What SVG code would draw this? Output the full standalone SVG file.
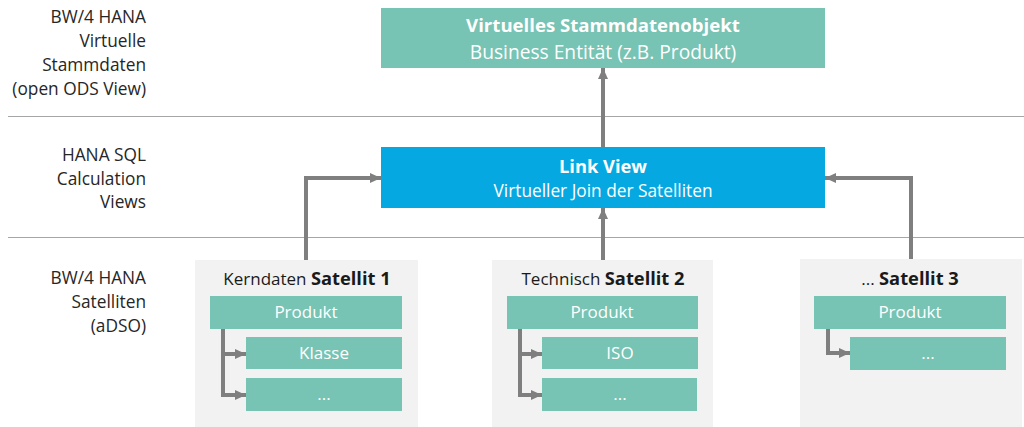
<svg xmlns="http://www.w3.org/2000/svg" width="1024" height="427" viewBox="0 0 1024 427">
<style>
  .lbl{font-family:"Open Sans","Noto Sans",sans-serif;font-size:17.3px;fill:#262626;text-anchor:end}
  .teal{fill:#77C3B4}
  .blue{fill:#06A8E2}
  .sat{fill:#F2F2F2}
  .wt{font-family:"Open Sans","Noto Sans",sans-serif;font-size:17px;fill:#FFFFFF;text-anchor:middle}
  .wb{font-family:"Open Sans","Noto Sans",sans-serif;font-size:18.3px;font-weight:bold;fill:#FFFFFF;text-anchor:middle}
  .big{font-size:19.2px}
  .bigb{font-size:18.6px}
  .sub{font-size:17.3px}
  .tt{font-family:"Open Sans","Noto Sans",sans-serif;font-size:17px;fill:#1A1A1A;text-anchor:middle}
  .tb{font-weight:bold;font-size:18.3px}
  .sep{stroke:#A6A6A6;stroke-width:1}
  .con{fill:none;stroke:#7F7F7F;stroke-width:4}
</style>
<defs>
  <marker id="ah" markerUnits="userSpaceOnUse" markerWidth="12" markerHeight="12" refX="11" refY="5" orient="auto">
    <path d="M0,0 L11,5 L0,10 z" fill="#7F7F7F"/>
  </marker>
</defs>
<rect x="0" y="0" width="1024" height="427" fill="#FFFFFF"/>
<g id="layers">
  <line class="sep" x1="8" y1="116.5" x2="1024" y2="116.5"/>
  <line class="sep" x1="8" y1="237.5" x2="1024" y2="237.5"/>
  <text class="lbl" x="146" y="23">BW/4 HANA</text>
  <text class="lbl" x="146" y="47">Virtuelle</text>
  <text class="lbl" x="146" y="71">Stammdaten</text>
  <text class="lbl" x="146" y="95">(open ODS View)</text>
  <text class="lbl" x="146" y="161">HANA SQL</text>
  <text class="lbl" x="146" y="185">Calculation</text>
  <text class="lbl" x="146" y="208">Views</text>
  <text class="lbl" x="146" y="284">BW/4 HANA</text>
  <text class="lbl" x="146" y="308">Satelliten</text>
  <text class="lbl" x="146" y="332">(aDSO)</text>
</g>
<g id="stammdatenobjekt">
  <rect class="teal" x="381" y="8" width="444" height="60"/>
  <text class="wb bigb" x="603" y="32">Virtuelles Stammdatenobjekt</text>
  <text class="wt big" x="603" y="59">Business Entität (z.B. Produkt)</text>
</g>
<g id="linkview">
  <rect class="blue" x="381" y="147" width="444" height="61"/>
  <text class="wb" x="603" y="173">Link View</text>
  <text class="wt sub" x="603" y="197">Virtueller Join der Satelliten</text>
</g>
<g id="satellit1">
  <rect class="sat" x="195" y="260" width="223" height="167"/>
  <text class="tt" x="307" y="285">Kerndaten <tspan class="tb">Satellit 1</tspan></text>
  <rect class="teal" x="210" y="296" width="192" height="33"/>
  <text class="wt" x="306" y="318">Produkt</text>
  <rect class="teal" x="246" y="337" width="156" height="32"/>
  <text class="wt" x="324" y="359">Klasse</text>
  <rect class="teal" x="246" y="378" width="156" height="33"/>
  <text class="wt" x="324" y="400">...</text>
</g>
<g id="satellit2">
  <rect class="sat" x="492" y="260" width="221" height="167"/>
  <text class="tt" x="603" y="285">Technisch <tspan class="tb">Satellit 2</tspan></text>
  <rect class="teal" x="507" y="296" width="191" height="33"/>
  <text class="wt" x="602" y="318">Produkt</text>
  <rect class="teal" x="542" y="337" width="156" height="32"/>
  <text class="wt" x="620" y="359">ISO</text>
  <rect class="teal" x="542" y="378" width="155" height="33"/>
  <text class="wt" x="620" y="400">...</text>
</g>
<g id="satellit3">
  <rect class="sat" x="800" y="259" width="222" height="168"/>
  <text class="tt" x="910" y="285">... <tspan class="tb">Satellit 3</tspan></text>
  <rect class="teal" x="814" y="296" width="192" height="33"/>
  <text class="wt" x="910" y="318">Produkt</text>
  <rect class="teal" x="850" y="337" width="156" height="33"/>
  <text class="wt" x="928" y="359">...</text>
</g>
<g id="connectors">
  <line class="con" x1="603" y1="147" x2="603" y2="68" marker-end="url(#ah)"/>
  <line class="con" x1="603" y1="260" x2="603" y2="208" marker-end="url(#ah)"/>
  <polyline class="con" points="306,260 306,178 381,178" marker-end="url(#ah)"/>
  <polyline class="con" points="911,259 911,178 825,178" marker-end="url(#ah)"/>
  <polyline class="con" points="223,329 223,395 246,395" marker-end="url(#ah)"/>
  <polyline class="con" points="223,354 246,354" marker-end="url(#ah)"/>
  <polyline class="con" points="520,329 520,395 542,395" marker-end="url(#ah)"/>
  <polyline class="con" points="520,354 542,354" marker-end="url(#ah)"/>
  <polyline class="con" points="828,329 828,353 850,353" marker-end="url(#ah)"/>
</g>
</svg>
